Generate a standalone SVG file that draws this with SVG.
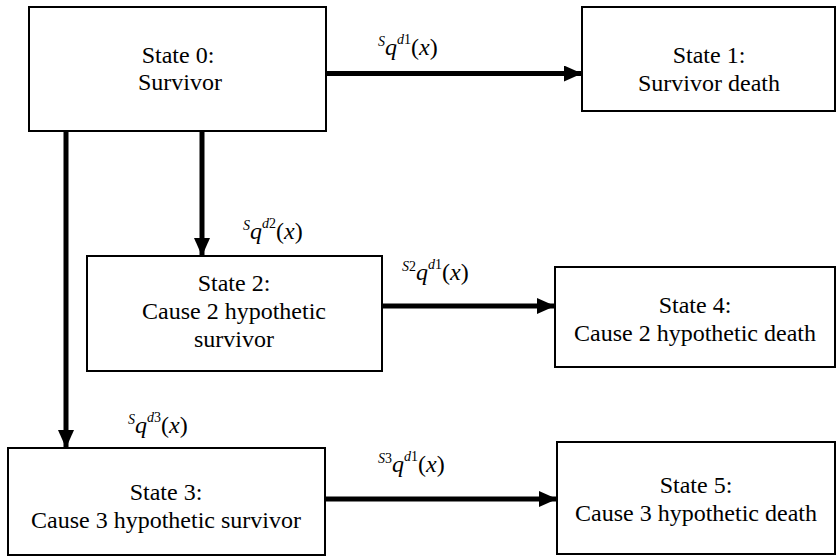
<svg xmlns="http://www.w3.org/2000/svg" width="837" height="556" viewBox="0 0 837 556">
<style>
.box{fill:#fff;stroke:#000;stroke-width:2}
.t{font-family:"Liberation Serif","Times New Roman",serif;font-size:24px;fill:#000;text-anchor:middle}
.m{font-family:"Liberation Serif","Times New Roman",serif;font-size:24px;font-style:italic;fill:#000}
.s{font-size:14px}
.u{font-style:normal}
.c{stroke:#000;stroke-width:5;fill:none}
</style>
<defs>
<marker id="ah" markerUnits="userSpaceOnUse" markerWidth="18" markerHeight="16" refX="18" refY="8" orient="auto">
<path d="M0,0 L18,8 L0,16 Z" fill="#000"/>
</marker>
</defs>
<rect width="837" height="556" fill="#fff"/>
<g id="connectors">
<line class="c" x1="326" y1="73.5" x2="582" y2="73.5" marker-end="url(#ah)"/>
<line class="c" x1="202" y1="131" x2="202" y2="256" marker-end="url(#ah)"/>
<line class="c" x1="66" y1="131" x2="66" y2="448" marker-end="url(#ah)"/>
<line class="c" x1="382" y1="306" x2="555" y2="306" marker-end="url(#ah)"/>
<line class="c" x1="325" y1="499" x2="557" y2="499" marker-end="url(#ah)"/>
<text class="m" x="378" y="55"><tspan class="s" dy="-9">S</tspan><tspan dy="9">q</tspan><tspan class="s" dy="-11">d</tspan><tspan class="s u">1</tspan><tspan class="u" dy="11">(</tspan>x<tspan class="u">)</tspan></text>
<text class="m" x="243" y="239"><tspan class="s" dy="-9">S</tspan><tspan dy="9">q</tspan><tspan class="s" dy="-11">d</tspan><tspan class="s u">2</tspan><tspan class="u" dy="11">(</tspan>x<tspan class="u">)</tspan></text>
<text class="m" x="402" y="280"><tspan class="s" dy="-9">S</tspan><tspan class="s u">2</tspan><tspan dy="9">q</tspan><tspan class="s" dy="-11">d</tspan><tspan class="s u">1</tspan><tspan class="u" dy="11">(</tspan>x<tspan class="u">)</tspan></text>
<text class="m" x="128" y="433"><tspan class="s" dy="-9">S</tspan><tspan dy="9">q</tspan><tspan class="s" dy="-11">d</tspan><tspan class="s u">3</tspan><tspan class="u" dy="11">(</tspan>x<tspan class="u">)</tspan></text>
<text class="m" x="378" y="472"><tspan class="s" dy="-9">S</tspan><tspan class="s u">3</tspan><tspan dy="9">q</tspan><tspan class="s" dy="-11">d</tspan><tspan class="s u">1</tspan><tspan class="u" dy="11">(</tspan>x<tspan class="u">)</tspan></text>
</g>
<g id="state0">
<rect class="box" x="29" y="7" width="297" height="124"/>
<text class="t" x="178" y="63">State 0:</text>
<text class="t" x="180" y="90">Survivor</text>
</g>
<g id="state1">
<rect class="box" x="582" y="7" width="253" height="104"/>
<text class="t" x="709" y="63">State 1:</text>
<text class="t" x="709" y="91">Survivor death</text>
</g>
<g id="state2">
<rect class="box" x="87" y="256" width="295" height="115"/>
<text class="t" x="234" y="291">State 2:</text>
<text class="t" x="234" y="319">Cause 2 hypothetic</text>
<text class="t" x="234" y="347">survivor</text>
</g>
<g id="state4">
<rect class="box" x="555" y="267" width="280" height="100"/>
<text class="t" x="695" y="313">State 4:</text>
<text class="t" x="695" y="341">Cause 2 hypothetic death</text>
</g>
<g id="state3">
<rect class="box" x="8" y="448" width="317" height="107"/>
<text class="t" x="166" y="500">State 3:</text>
<text class="t" x="166" y="528">Cause 3 hypothetic survivor</text>
</g>
<g id="state5">
<rect class="box" x="557" y="442" width="278" height="112"/>
<text class="t" x="696" y="493">State 5:</text>
<text class="t" x="696" y="521">Cause 3 hypothetic death</text>
</g>
</svg>
